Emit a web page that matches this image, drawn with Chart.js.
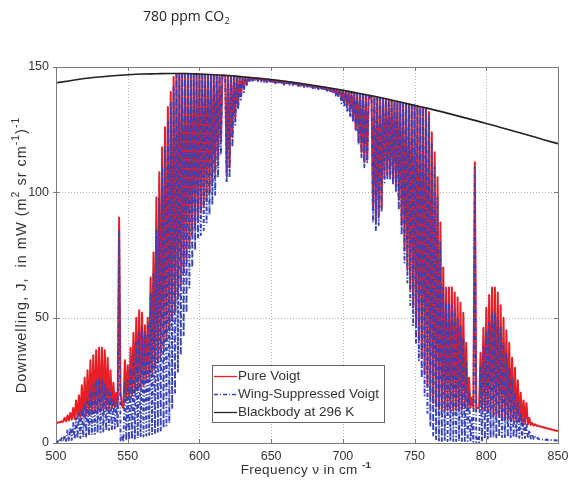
<!DOCTYPE html>
<html>
<head>
<meta charset="utf-8">
<script src="https://cdn.jsdelivr.net/npm/chart.js@4.4.0/dist/chart.umd.min.js"></script>
<style>
html, body { margin: 0; padding: 0; background: #fff; }
#spectrum { display: block; }
</style>
</head>
<body>
<canvas id="spectrum" width="570" height="483"></canvas>
<script>
// wavenumber grid in cm-1, one sample per cm-1
const freqStart = 500;
const freqEnd = 850;
const xTicks = [500, 550, 600, 650, 700, 750, 800, 850];
const yTicks = [0, 50, 100, 150];

// Pure Voigt, line tops at even wavenumbers (500, 502 ... 850)
const pureVoigtPeaks = [
  8.0, 8.3, 8.6, 10, 11, 12, 14, 17, 19, 23,
  26, 29, 33, 35, 37, 38, 38, 37, 34, 29,
  24, 20, 90, 15, 33, 31, 38, 44, 50, 53,
  52, 47, 50, 66, 76, 98, 108, 118, 126, 134,
  140, 146, 147.2, 147.3, 147.3, 147.3, 147.3, 147.2, 147.2, 147.1,
  147.1, 147.0, 146.9, 146.9, 146.8, 146.8, 146.7, 146.6, 146.6, 146.5,
  146.5, 146.4, 146.3, 146.2, 146.1, 146.0, 145.9, 145.8, 145.7, 145.6,
  145.5, 145.4, 145.3, 145.2, 145.0, 144.9, 144.8, 144.6, 144.5, 144.3,
  144.2, 144.0, 143.9, 143.7, 143.6, 143.4, 143.2, 143.0, 142.9, 142.7,
  142.5, 142.3, 142.1, 142.0, 141.8, 141.6, 141.4, 141.2, 141.0, 140.8,
  140.6, 140.4, 140.2, 139.9, 139.7, 139.5, 139.3, 139.1, 138.8, 138.6,
  138.4, 138.2, 137.9, 137.7, 137.4, 137.2, 136.9, 136.7, 136.4, 136.2,
  135.9, 135.6, 135.4, 135.1, 134.8, 134.6, 134.3, 134.0, 133.8, 133.5,
  132, 124, 116, 106, 88, 70, 62, 62, 62, 60,
  58, 56, 52, 40, 26, 18, 112, 14, 36, 46,
  54, 59, 62, 62, 60, 55, 50, 45, 40, 34,
  30, 25, 20, 17, 16, 10, 8, 7.5, 7, 6.6,
  6.2, 5.9, 5.6, 5.3, 5.0, 4.8
];
// Pure Voigt, between lines at odd wavenumbers (501, 503 ... 849)
const pureVoigtTroughs = [
  8.1, 8.3, 8.5, 8.7, 9.0, 9.3, 9.6, 10.0, 10.3, 10.6,
  11.0, 11.3, 11.6, 12.0, 12.3, 12.6, 13.0, 13.3, 13.6, 14.0,
  14.3, 14.6, 20, 14, 17, 18, 19, 20, 21, 22,
  23, 25, 26, 28, 30, 32, 35, 38, 41, 45,
  49, 53, 58, 63, 68, 73, 78, 83, 87, 90,
  92, 94, 97, 100, 104, 108, 113, 121, 146.5, 107,
  110, 122, 130, 135, 139, 141.5, 143.5, 144.6, 145.0, 145.0,
  144.8, 144.7, 144.5, 144.4, 144.3, 144.1, 144.0, 143.8, 143.7, 143.5,
  143.5, 143.4, 143.2, 143.1, 142.9, 142.7, 142.5, 142.3, 142.2, 142.0,
  141.8, 141.6, 141.4, 141.2, 141.0, 140.5, 140.0, 139.4, 138.8, 138.0,
  136, 135, 133, 130, 125, 120, 116, 112, 113, 138,
  94, 89, 91, 94, 106, 107, 107, 105, 103, 97,
  87, 77, 69, 61, 54, 47, 41, 34, 28, 23,
  19, 16, 14.5, 13.5, 13, 13, 13, 13, 13, 13,
  13.5, 13.5, 14, 14, 14, 14, 14, 14, 13.5, 13,
  12.5, 12, 11.5, 11, 10.5, 10, 9.8, 9.5, 9.2, 9.0,
  8.7, 8.4, 8.1, 7.8, 7.5, 7.2, 7.0, 6.8, 6.6, 6.4,
  6.1, 5.8, 5.5, 5.2, 4.9
];

// Wing-suppressed Voigt, same grid
const wingSuppPeaks = [
  1.0, 1.5, 2.0, 3.0, 5.0, 6.0, 8.0, 10, 12, 14,
  16, 18, 21, 23, 25, 26, 25, 24, 22, 20,
  18, 16, 85, 3, 24, 25, 30, 35, 40, 44,
  46, 44, 48, 60, 68, 85, 98, 110, 118, 128,
  136, 142, 146.8, 147.1, 147.1, 147.1, 147.1, 147.0, 147.0, 146.9,
  146.9, 146.8, 146.7, 146.7, 146.6, 146.6, 146.5, 146.4, 146.4, 146.3,
  146.3, 146.2, 146.1, 146.0, 145.9, 145.8, 145.7, 145.6, 145.5, 145.4,
  145.3, 145.2, 145.1, 145.0, 144.8, 144.7, 144.6, 144.4, 144.3, 144.1,
  144.0, 143.8, 143.7, 143.5, 143.4, 143.2, 143.0, 142.8, 142.7, 142.5,
  142.3, 142.1, 141.9, 141.8, 141.6, 141.4, 141.2, 141.0, 140.8, 140.6,
  140.4, 140.2, 140.0, 139.7, 139.5, 139.3, 139.1, 138.9, 138.6, 138.4,
  138.2, 138.0, 137.7, 137.5, 137.2, 137.0, 136.7, 136.5, 136.2, 136.0,
  135.7, 135.4, 135.2, 134.9, 134.6, 134.4, 134.1, 133.8, 133.6, 133.0,
  130, 120, 110, 98, 80, 62, 56, 56, 55, 53,
  50, 47, 42, 32, 20, 10, 110, 2, 30, 38,
  44, 48, 52, 52, 50, 46, 40, 36, 30, 26,
  20, 16, 12, 10, 8, 5, 3.5, 2.5, 2.0, 1.5,
  1.5, 1.4, 1.3, 1.2, 1.1, 1.0
];
const wingSuppTroughs = [
  0.3, 0.5, 0.6, 0.8, 1.0, 1.2, 1.5, 1.8, 2.0, 2.3,
  2.6, 3.0, 3.3, 3.6, 4.0, 4.3, 4.6, 5.0, 5.2, 5.5,
  5.8, 6.0, 1.0, 0.5, 1.0, 1.2, 1.5, 1.8, 2.0, 2.3,
  2.6, 3.0, 3.3, 3.6, 4.0, 4.5, 5.0, 6.0, 7.0, 8.0,
  14, 20, 28, 35, 43, 52, 62, 70, 77, 82,
  83, 85, 88, 91, 95, 99, 106, 115, 146.3, 104,
  106, 118, 127, 133, 137, 140, 142.8, 144.0, 144.5, 144.5,
  144.3, 144.2, 144.0, 143.9, 143.8, 143.6, 143.5, 143.3, 143.2, 143.0,
  143.0, 142.9, 142.7, 142.6, 142.4, 142.2, 142.0, 141.8, 141.7, 141.5,
  141.3, 141.1, 140.9, 140.7, 140.5, 140.0, 139.4, 138.6, 137.8, 135.5,
  134, 132, 130, 128, 125, 119, 114, 110, 112, 137.5,
  88, 85, 87, 92, 104, 105, 105, 103, 100, 93,
  83, 72, 64, 55, 47, 40, 33, 26, 19, 12,
  7, 3, 1.5, 1.0, 0.8, 0.8, 0.8, 0.8, 0.8, 0.8,
  0.8, 0.8, 0.8, 0.8, 0.7, 0.5, 0.3, 0.3, 1.0, 1.5,
  1.8, 2.0, 2.2, 2.3, 2.4, 2.4, 2.4, 2.3, 2.3, 2.2,
  2.2, 2.1, 2.0, 2.0, 1.9, 1.8, 1.7, 1.6, 1.5, 1.4,
  1.3, 1.2, 1.2, 1.1, 1.0
];

// Blackbody at 296 K, every 10 cm-1
const blackbodyFreq = [500, 510, 520, 530, 540, 550, 560, 570, 580, 590, 600, 610,
  620, 630, 640, 650, 660, 670, 680, 690, 700, 710, 720, 730, 740, 750, 760, 770,
  780, 790, 800, 810, 820, 830, 840, 850];
const blackbody296 = [143.7, 144.5, 145.4, 146.0, 146.5, 146.9, 147.2, 147.3, 147.4, 147.4, 147.2, 146.9,
  146.6, 146.1, 145.6, 145.0, 144.3, 143.5, 142.6, 141.7, 140.7, 139.6, 138.5, 137.3,
  136.0, 134.7, 133.4, 132.0, 130.5, 129.0, 127.5, 125.9, 124.3, 122.7, 121.0, 119.4];

const RED = 'rgb(232, 30, 38)';
const BLUE = 'rgb(55, 66, 182)';
const BLACK = '#222';
const BLUE_DASH = [4, 2, 1, 2];
const FONT = "'Liberation Sans', Arial, sans-serif";

// put line tops and gaps back in wavenumber order
function spectrum(peaks, troughs) {
  const pts = [];
  for (let f = freqStart; f <= freqEnd; f++) {
    const k = f - freqStart;
    pts.push({ x: f, y: k % 2 === 0 ? peaks[k / 2] : troughs[(k - 1) / 2] });
  }
  return pts;
}

// draw text runs with raised superscripts, starting at x; returns end x
function drawRuns(ctx, runs, x, y, size, draw = true) {
  runs.forEach(r => {
    const s = r.sup ? size * 0.72 : size;
    ctx.font = (r.bold ? 'bold ' : '') + s + 'px ' + FONT;
    if (draw) ctx.fillText(r.t, x, r.sup ? y - size * 0.45 : y);
    x += ctx.measureText(r.t).width;
  });
  return x;
}

const matlabAxes = {
  id: 'matlabAxes',
  beforeDatasetsDraw(chart) {
    const { ctx, chartArea: a, scales: { x, y } } = chart;
    ctx.save();
    ctx.strokeStyle = '#b4b4b4';
    ctx.lineWidth = 1;
    ctx.setLineDash([1, 2]);
    ctx.beginPath();
    xTicks.slice(1, -1).forEach(v => {
      const px = Math.round(x.getPixelForValue(v)) + 0.5;
      ctx.moveTo(px, a.top); ctx.lineTo(px, a.bottom);
    });
    yTicks.slice(1, -1).forEach(v => {
      const py = Math.round(y.getPixelForValue(v)) + 0.5;
      ctx.moveTo(a.left, py); ctx.lineTo(a.right, py);
    });
    ctx.stroke();
    ctx.restore();
  },
  afterDatasetsDraw(chart) {
    const { ctx, chartArea: a, scales: { x, y } } = chart;
    ctx.save();
    // box and ticks
    ctx.strokeStyle = '#7a7a7a';
    ctx.lineWidth = 1;
    ctx.strokeRect(Math.round(a.left) + 0.5, Math.round(a.top) + 0.5,
      Math.round(a.right - a.left), Math.round(a.bottom - a.top));
    ctx.beginPath();
    xTicks.forEach(v => {
      const px = Math.round(x.getPixelForValue(v)) + 0.5;
      ctx.moveTo(px, a.bottom); ctx.lineTo(px, a.bottom - 4);
      ctx.moveTo(px, a.top); ctx.lineTo(px, a.top + 4);
    });
    yTicks.forEach(v => {
      const py = Math.round(y.getPixelForValue(v)) + 0.5;
      ctx.moveTo(a.left - 3, py); ctx.lineTo(a.left + 4, py);
      ctx.moveTo(a.right, py); ctx.lineTo(a.right - 4, py);
    });
    ctx.stroke();

    // legend
    const lx = 212.5, ly = 365.5, lw = 172, lh = 57;
    ctx.fillStyle = '#fff';
    ctx.fillRect(lx, ly, lw, lh);
    ctx.strokeStyle = '#666';
    ctx.strokeRect(lx, ly, lw, lh);
    const items = [
      { text: 'Pure Voigt', color: RED, dash: [], yy: 376 },
      { text: 'Wing-Suppressed Voigt', color: BLUE, dash: BLUE_DASH, yy: 394 },
      { text: 'Blackbody at 296 K', color: BLACK, dash: [], yy: 412 }
    ];
    ctx.font = '13.5px ' + FONT;
    ctx.textBaseline = 'middle';
    items.forEach(it => {
      ctx.strokeStyle = it.color;
      ctx.lineWidth = 1.3;
      ctx.setLineDash(it.dash);
      ctx.beginPath();
      ctx.moveTo(214, it.yy + 0.5); ctx.lineTo(237, it.yy + 0.5);
      ctx.stroke();
      ctx.setLineDash([]);
      ctx.fillStyle = '#333';
      ctx.fillText(it.text, 238, it.yy);
    });
    ctx.restore();
  },
  afterDraw(chart) {
    const { ctx } = chart;
    ctx.save();
    ctx.fillStyle = '#333';
    ctx.textBaseline = 'alphabetic';
    // y axis title, spaced out a little like the exported figure
    const yRuns = [
      { t: 'Downwelling, J,  in mW (m' }, { t: '2', sup: true }, { t: ' sr cm' },
      { t: '-1', sup: true }, { t: ')' }, { t: '-1', sup: true }
    ];
    const ySize = 14.5;
    ctx.letterSpacing = '1px';
    const yw = drawRuns(ctx, yRuns, 0, 0, ySize, false);
    ctx.save();
    ctx.translate(26, 255);
    ctx.rotate(-Math.PI / 2);
    drawRuns(ctx, yRuns, -yw / 2, 0, ySize);
    ctx.restore();
    ctx.letterSpacing = '0.4px';
    // x axis title
    const xRuns = [{ t: 'Frequency ν in cm ' }, { t: '-1', sup: true, bold: true }];
    const xw = drawRuns(ctx, xRuns, 0, 0, 13.5, false);
    drawRuns(ctx, xRuns, 306 - xw / 2, 474, 13.5);
    ctx.letterSpacing = '0px';
    // chart title
    ctx.fillStyle = '#222';
    ctx.font = "14px 'Open Sans', sans-serif";
    const t = '780 ppm CO';
    ctx.fillText(t, 143, 21);
    const wt = ctx.measureText(t).width;
    ctx.font = "9px 'Open Sans', sans-serif";
    ctx.fillText('2', 143 + wt + 0.5, 24);
    ctx.restore();
  }
};

new Chart(document.getElementById('spectrum').getContext('2d'), {
  type: 'line',
  data: {
    datasets: [
      {
        label: 'Blackbody at 296 K',
        data: blackbodyFreq.map((f, i) => ({ x: f, y: blackbody296[i] })),
        borderColor: BLACK,
        borderWidth: 1.6,
        pointRadius: 0,
        cubicInterpolationMode: 'monotone',
        order: 0
      },
      {
        label: 'Wing-Suppressed Voigt',
        data: spectrum(wingSuppPeaks, wingSuppTroughs),
        borderColor: BLUE,
        borderWidth: 1.9,
        borderDash: BLUE_DASH,
        borderJoinStyle: 'round',
        pointRadius: 0,
        tension: 0,
        order: 1
      },
      {
        label: 'Pure Voigt',
        data: spectrum(pureVoigtPeaks, pureVoigtTroughs),
        borderColor: RED,
        borderWidth: 2,
        borderJoinStyle: 'round',
        pointRadius: 0,
        tension: 0,
        order: 2
      }
    ]
  },
  options: {
    responsive: false,
    animation: false,
    devicePixelRatio: 1,
    parsing: false,
    normalized: true,
    layout: { padding: { top: 67, right: 12, left: 0, bottom: 0 } },
    plugins: {
      legend: { display: false },
      tooltip: { enabled: false },
      title: { display: false }
    },
    scales: {
      x: {
        type: 'linear',
        min: freqStart,
        max: freqEnd,
        afterBuildTicks: s => { s.ticks = xTicks.map(v => ({ value: v })); },
        afterFit: s => { s.height = 40; s.paddingLeft = 0; s.paddingRight = 0; },
        grid: { display: false, drawTicks: false },
        border: { display: false },
        ticks: { color: '#333', font: { family: FONT, size: 12.5 }, padding: 6, maxRotation: 0 }
      },
      y: {
        min: 0,
        max: 150,
        afterBuildTicks: s => { s.ticks = yTicks.map(v => ({ value: v })); },
        afterFit: s => { s.width = 56; s.paddingTop = 0; s.paddingBottom = 0; },
        grid: { display: false, drawTicks: false },
        border: { display: false },
        ticks: { color: '#333', font: { family: FONT, size: 12.5 }, padding: 7 }
      }
    }
  },
  plugins: [matlabAxes]
});
</script>
</body>
</html>
